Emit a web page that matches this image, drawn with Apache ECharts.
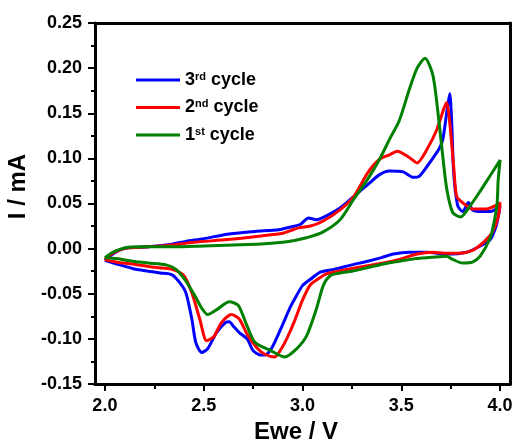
<!DOCTYPE html>
<html><head><meta charset="utf-8">
<script src="https://cdn.jsdelivr.net/npm/echarts@6/dist/echarts.min.js"></script>
<style>html,body{margin:0;padding:0;background:#fff}#c{width:513px;height:443px}</style>
</head><body><div id="c"></div>
<script>
// Cycle 3 (blue)
var c3V = [2.00,2.04,2.08,2.12,2.22,2.34,2.41,2.50,2.62,2.76,2.88,2.94,2.99,3.03,3.07,3.10,3.19,3.26,3.33,3.39,3.44,3.51,3.56,3.59,3.63,3.69,3.71,3.73,3.745,3.755,3.765,3.785,3.81,3.84,3.86,3.90,3.95,4.00,
  3.99,3.98,3.95,3.90,3.83,3.73,3.63,3.54,3.46,3.40,3.33,3.25,3.16,3.09,3.04,3.00,2.97,2.94,2.89,2.85,2.82,2.79,2.75,2.72,2.68,2.65,2.63,2.61,2.565,2.52,2.49,2.46,2.44,2.41,2.38,2.34,2.28,2.22,2.14,2.06,2.00];
var c3I = [-0.013,-0.006,-0.001,0.001,0.002,0.005,0.008,0.011,0.016,0.019,0.021,0.024,0.027,0.034,0.032,0.034,0.045,0.058,0.071,0.082,0.086,0.085,0.079,0.080,0.091,0.110,0.121,0.151,0.172,0.140,0.084,0.048,0.041,0.051,0.043,0.041,0.041,0.047,
  0.035,0.025,0.010,0.003,-0.004,-0.006,-0.004,-0.004,-0.006,-0.010,-0.014,-0.018,-0.023,-0.026,-0.034,-0.041,-0.052,-0.064,-0.089,-0.108,-0.117,-0.118,-0.113,-0.100,-0.093,-0.086,-0.081,-0.082,-0.093,-0.111,-0.115,-0.104,-0.078,-0.049,-0.038,-0.029,-0.027,-0.025,-0.022,-0.017,-0.013];
// Cycle 2 (red)
var c2V = [2.00,2.04,2.08,2.12,2.22,2.34,2.45,2.62,2.79,2.90,2.94,2.98,3.04,3.10,3.19,3.26,3.33,3.39,3.44,3.48,3.54,3.58,3.63,3.68,3.715,3.73,3.745,3.765,3.78,3.81,3.86,3.93,3.98,4.00,
  3.99,3.96,3.93,3.90,3.86,3.80,3.72,3.66,3.58,3.49,3.41,3.33,3.25,3.16,3.12,3.09,3.04,3.00,2.96,2.92,2.89,2.86,2.81,2.77,2.72,2.68,2.64,2.59,2.55,2.515,2.48,2.44,2.40,2.34,2.26,2.14,2.06,2.00];
var c2I = [-0.012,-0.005,-0.001,0.001,0.002,0.004,0.007,0.010,0.014,0.017,0.020,0.023,0.025,0.030,0.043,0.058,0.084,0.099,0.104,0.108,0.101,0.095,0.110,0.132,0.155,0.162,0.140,0.091,0.058,0.051,0.044,0.044,0.048,0.051,
  0.035,0.018,0.010,0.004,-0.002,-0.005,-0.005,-0.004,-0.006,-0.012,-0.016,-0.019,-0.022,-0.026,-0.028,-0.032,-0.040,-0.057,-0.080,-0.100,-0.112,-0.120,-0.117,-0.110,-0.095,-0.078,-0.073,-0.082,-0.098,-0.102,-0.078,-0.049,-0.030,-0.023,-0.021,-0.017,-0.015,-0.012];
// Cycle 1 (green)
var c1V = [2.00,2.04,2.08,2.12,2.20,2.35,2.50,2.65,2.79,2.90,2.96,3.02,3.10,3.19,3.26,3.33,3.39,3.44,3.49,3.54,3.58,3.62,3.66,3.69,3.71,3.73,3.76,3.80,3.85,3.90,3.95,4.00,
  3.99,3.985,3.97,3.95,3.90,3.86,3.81,3.76,3.73,3.66,3.58,3.49,3.41,3.33,3.25,3.19,3.14,3.105,3.07,3.02,2.97,2.91,2.84,2.76,2.72,2.675,2.63,2.57,2.52,2.49,2.46,2.41,2.36,2.31,2.22,2.14,2.06,2.00];
var c1I = [-0.010,-0.004,-0.0005,0.0015,0.002,0.002,0.003,0.004,0.005,0.007,0.009,0.012,0.018,0.032,0.055,0.077,0.099,0.121,0.142,0.176,0.200,0.211,0.192,0.142,0.102,0.066,0.040,0.035,0.048,0.064,0.081,0.098,
  0.075,0.051,0.030,0.012,-0.008,-0.015,-0.016,-0.012,-0.0085,-0.0095,-0.011,-0.014,-0.017,-0.021,-0.025,-0.027,-0.030,-0.041,-0.067,-0.097,-0.111,-0.120,-0.113,-0.104,-0.086,-0.063,-0.059,-0.067,-0.073,-0.066,-0.054,-0.036,-0.023,-0.018,-0.016,-0.014,-0.011,-0.010];

var seriesNames = ['3rd cycle','2nd cycle','1st cycle'];
var seriesColors = ['#0000ff','#ff0000','#008000'];
var xMajor = [2.0,2.5,3.0,3.5,4.0];
var xMinor = [2.25,2.75,3.25,3.75];

function zip(a,b){var r=[];for(var i=0;i<a.length;i++)r.push([a[i],b[i]]);return r;}
var datasets = [zip(c3V,c3I), zip(c2V,c2I), zip(c1V,c1I)];

var FONT = 'Arial, "Liberation Sans", sans-serif';
var chart = echarts.init(document.getElementById('c'), null, {renderer:'canvas'});
chart.setOption({
  animation:false,
  backgroundColor:'#fff',
  grid:{left:95, top:23, width:415, height:361, containLabel:false, outerBoundsMode:'none'},
  legend:{
    orient:'vertical', left:136, top:71, padding:0, itemWidth:44, itemHeight:14, itemGap:9.5,
    icon:'path://M0,6L44,6L44,9L0,9Z',
    data:seriesNames,
    formatter:function(n){return n.replace(/^(\d)(st|nd|rd)/,'$1{sup|$2}');},
    textStyle:{fontFamily:FONT,fontWeight:'bold',fontSize:18,color:'#000',
      rich:{sup:{fontFamily:FONT,fontWeight:'bold',fontSize:11,verticalAlign:'top',lineHeight:9,color:'#000'}}}
  },
  xAxis:[
    {type:'value',min:1.95,max:4.05,position:'bottom',
     name:'Ewe / V',nameLocation:'middle',nameGap:35,
     nameTextStyle:{fontFamily:FONT,fontWeight:'bold',fontSize:24,color:'#000',padding:[0,13,0,0]},
     axisLine:{show:true,onZero:false,lineStyle:{color:'#000',width:3}},
     axisTick:{show:true,customValues:xMajor,length:7,lineStyle:{color:'#000',width:2}},
     axisLabel:{customValues:xMajor,margin:13,fontFamily:FONT,fontWeight:'bold',fontSize:18,color:'#000',
       formatter:function(v){return v.toFixed(1);}},
     splitLine:{show:false}},
    {type:'value',min:1.95,max:4.05,position:'bottom',
     axisLine:{show:true,onZero:false,lineStyle:{color:'#000',width:3}},
     axisTick:{show:true,customValues:xMinor,length:5,lineStyle:{color:'#000',width:2}},
     axisLabel:{show:false},splitLine:{show:false}},
    {type:'value',min:1.95,max:4.05,position:'top',
     axisLine:{show:true,onZero:false,lineStyle:{color:'#000',width:3}},
     axisTick:{show:false},axisLabel:{show:false},splitLine:{show:false}}
  ],
  yAxis:[
    {type:'value',min:-0.15,max:0.25,interval:0.05,position:'left',
     name:'I / mA',nameLocation:'middle',nameGap:58,
     nameTextStyle:{fontFamily:FONT,fontWeight:'bold',fontSize:24,color:'#000',padding:[0,0,0,34]},
     axisLine:{show:true,onZero:false,lineStyle:{color:'#000',width:3}},
     axisTick:{show:true,length:7,lineStyle:{color:'#000',width:2}},
     minorTick:{show:true,splitNumber:2,length:4,lineStyle:{color:'#000',width:2}},
     axisLabel:{margin:13,fontFamily:FONT,fontWeight:'bold',fontSize:18,color:'#000',
       formatter:function(v){return v.toFixed(2);}},
     splitLine:{show:false},minorSplitLine:{show:false}},
    {type:'value',min:-0.15,max:0.25,position:'right',
     axisLine:{show:true,onZero:false,lineStyle:{color:'#000',width:3}},
     axisTick:{show:false},axisLabel:{show:false},splitLine:{show:false}}
  ],
  series:seriesNames.map(function(n,i){
    return {name:n,type:'line',xAxisIndex:0,yAxisIndex:0,data:datasets[i],
      showSymbol:false,symbol:'none',smooth:0.25,clip:false,
      lineStyle:{color:seriesColors[i],width:3},itemStyle:{color:seriesColors[i]},z:2+i};
  })
});
</script></body></html>
